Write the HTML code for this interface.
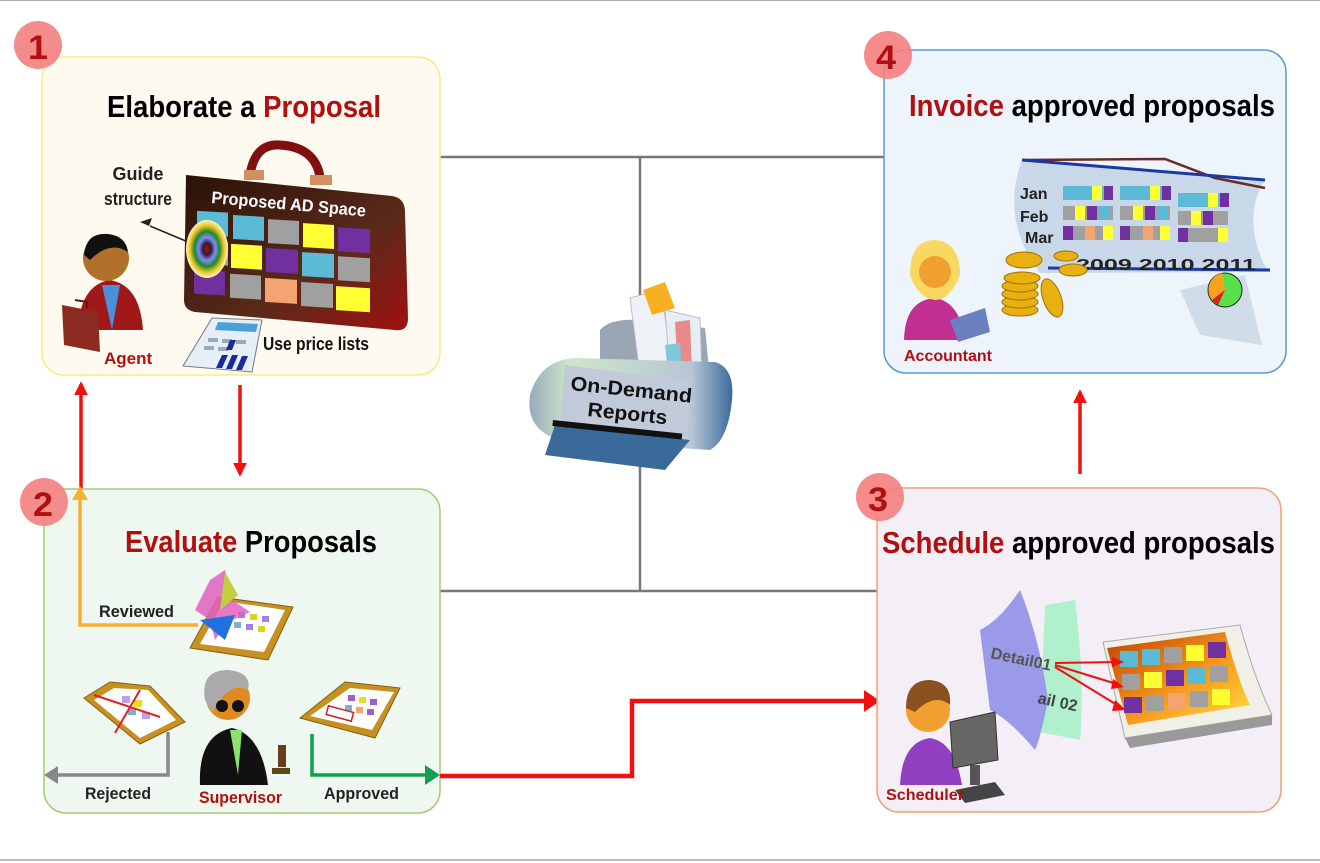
<!DOCTYPE html>
<html><head><meta charset="utf-8"><style>
html,body{margin:0;padding:0;background:#fff}
svg{display:block}
text{font-family:"Liberation Sans",Arial,sans-serif;font-weight:bold}
</style></head><body>
<svg width="1320" height="863" viewBox="0 0 1320 863" xmlns="http://www.w3.org/2000/svg">
<defs>
<marker id="ar" viewBox="0 0 10 10" refX="8" refY="5" markerWidth="4" markerHeight="4" orient="auto"><path d="M0,0L10,5L0,10z" fill="#f01010"/></marker>
<linearGradient id="case" x1="0" y1="0" x2="1" y2="1"><stop offset="0" stop-color="#2a1208"/><stop offset="0.6" stop-color="#5a2a1a"/><stop offset="1" stop-color="#a01010"/></linearGradient>
<radialGradient id="tgt"><stop offset="0" stop-color="#c00"/><stop offset="0.2" stop-color="#223"/><stop offset="0.4" stop-color="#88f"/><stop offset="0.6" stop-color="#1a8a2a"/><stop offset="0.8" stop-color="#e8c020"/><stop offset="1" stop-color="#fff8c0"/></radialGradient>
<linearGradient id="prn" x1="0" y1="0" x2="1" y2="0"><stop offset="0" stop-color="#9ab"/><stop offset="0.2" stop-color="#cfe6c8"/><stop offset="0.8" stop-color="#b6c6d6"/><stop offset="1" stop-color="#3a6a9a"/></linearGradient>
<linearGradient id="cal" x1="0" y1="0" x2="1" y2="1"><stop offset="0" stop-color="#c04000"/><stop offset="0.6" stop-color="#f8a020"/><stop offset="1" stop-color="#ffe040"/></linearGradient>
</defs>
<line x1="0" y1="0.5" x2="1320" y2="0.5" stroke="#aaa"/>
<line x1="0" y1="860" x2="1320" y2="860" stroke="#bbb" stroke-width="2"/>

<g stroke="#777" stroke-width="2.5" fill="none">
<line x1="440" y1="157" x2="884" y2="157"/>
<line x1="640" y1="157" x2="640" y2="591"/>
<line x1="440" y1="591" x2="877" y2="591"/>
</g>

<!-- Box 1 -->
<rect x="42" y="57" width="398" height="318" rx="22" fill="#fffaf0" stroke="#f0f080" stroke-width="1.5"/>
<circle cx="38" cy="45" r="24" fill="#f48080" opacity="0.9"/>
<text x="38" y="59" font-size="34" fill="#b01010" text-anchor="middle" textLength="20" lengthAdjust="spacingAndGlyphs">1</text>
<text x="107" y="117" font-size="31" textLength="274" lengthAdjust="spacingAndGlyphs"><tspan fill="#000">Elaborate a </tspan><tspan fill="#b01010">Proposal</tspan></text>
<text x="138" y="180" font-size="18" fill="#222" text-anchor="middle">Guide</text>
<text x="138" y="205" font-size="18" fill="#222" text-anchor="middle" textLength="68" lengthAdjust="spacingAndGlyphs">structure</text>
<line x1="150" y1="226" x2="200" y2="247" stroke="#222" stroke-width="1.5"/>
<path d="M140,222 l12,-4 l-3,8z" fill="#222"/>
<path d="M250,175 q5,-32 30,-30 q35,2 40,32" fill="none" stroke="#801010" stroke-width="9"/>
<rect x="244" y="170" width="20" height="10" fill="#d09060"/><rect x="310" y="175" width="22" height="10" fill="#d09060"/>
<path d="M186,175 L392,196 Q405,198 405,212 L408,318 Q408,332 395,330 L195,312 Q184,310 184,300 Z" fill="url(#case)"/>
<text x="211" y="203" font-size="17" fill="#fff" transform="rotate(5 211 203)" textLength="155" lengthAdjust="spacingAndGlyphs">Proposed AD Space</text>
<g transform="matrix(1,0.06,0,1,0,0)">
<rect x="197" y="199" width="31" height="24" fill="#5bbad5"/><rect x="233" y="201" width="31" height="24" fill="#5bbad5"/><rect x="268" y="203" width="31" height="24" fill="#a0a0a0"/><rect x="303" y="205" width="31" height="24" fill="#ffff33"/><rect x="338" y="207" width="32" height="24" fill="#7030a0"/>
<rect x="197" y="228" width="31" height="24" fill="#a0a0a0"/><rect x="231" y="230" width="31" height="24" fill="#ffff33"/><rect x="266" y="232" width="32" height="24" fill="#7030a0"/><rect x="302" y="234" width="32" height="24" fill="#5bbad5"/><rect x="338" y="236" width="32" height="24" fill="#a0a0a0"/>
<rect x="194" y="258" width="31" height="24" fill="#7030a0"/><rect x="230" y="260" width="31" height="24" fill="#a0a0a0"/><rect x="265" y="262" width="32" height="24" fill="#f4a470"/><rect x="301" y="264" width="32" height="24" fill="#a0a0a0"/><rect x="336" y="266" width="34" height="24" fill="#ffff33"/>
</g>
<ellipse cx="207" cy="249" rx="21" ry="29" fill="url(#tgt)"/>
<!-- calculator -->
<path d="M212,318 L262,320 L252,372 L183,366 Z" fill="#e6eef6" stroke="#778" stroke-width="1"/>
<path d="M218,322 L258,324 L256,332 L215,330Z" fill="#4aa0d8"/>
<g fill="#9aaabb"><rect x="208" y="338" width="10" height="4"/><rect x="222" y="339" width="10" height="4"/><rect x="236" y="340" width="10" height="4"/><rect x="204" y="346" width="10" height="4"/><rect x="218" y="347" width="10" height="4"/></g>
<g fill="#1a2a9a"><path d="M222,355 L228,355 L222,368 L216,368Z"/><path d="M232,355 L238,355 L232,369 L226,369Z"/><path d="M242,356 L248,356 L242,370 L236,370Z"/><path d="M230,340 L236,340 L232,350 L226,350Z"/></g>
<text x="263" y="350" font-size="18" fill="#111" textLength="106" lengthAdjust="spacingAndGlyphs">Use price lists</text>
<!-- agent -->
<path d="M78,330 Q80,285 110,280 Q140,285 143,330 Z" fill="#a01818"/>
<path d="M102,285 L112,330 L120,285Z" fill="#4a90d8"/>
<circle cx="106" cy="258" r="23" fill="#b0702a"/>
<path d="M84,255 Q86,232 108,234 Q126,236 128,252 Q110,240 90,260Z" fill="#111"/>
<path d="M62,305 L98,312 L100,352 L64,345Z" fill="#8a2a20"/>
<path d="M75,300 l12,2 l0,6" fill="none" stroke="#5a1a10" stroke-width="2"/>
<text x="104" y="364" font-size="17" fill="#b01010">Agent</text>

<line x1="81" y1="489" x2="81" y2="384" stroke="#f01010" stroke-width="3.5" marker-end="url(#ar)"/>
<line x1="240" y1="385" x2="240" y2="474" stroke="#f01010" stroke-width="3.5" marker-end="url(#ar)"/>

<!-- Box 2 -->
<rect x="44" y="489" width="396" height="324" rx="22" fill="#eef8f0" stroke="#a8c878" stroke-width="1.5"/>
<circle cx="44" cy="502" r="24" fill="#f48080" opacity="0.9"/>
<text x="43" y="516" font-size="34" fill="#b01010" text-anchor="middle" textLength="20" lengthAdjust="spacingAndGlyphs">2</text>
<text x="125" y="552" font-size="31" textLength="252" lengthAdjust="spacingAndGlyphs"><tspan fill="#b01010">Evaluate </tspan><tspan fill="#000">Proposals</tspan></text>
<path d="M198,625 L80,625 L80,498" fill="none" stroke="#f8b030" stroke-width="3.5"/>
<path d="M72,500 L80,486 L88,500Z" fill="#f8b030"/>
<text x="99" y="617" font-size="17" fill="#222" textLength="75" lengthAdjust="spacingAndGlyphs">Reviewed</text>
<g><path d="M218,597 L293,607 L268,660 L190,648Z" fill="#c89020" stroke="#806010"/><path d="M224,601 L285,610 L264,652 L200,644Z" fill="#fff"/>
<g fill="#a080e0"><rect x="238" y="612" width="7" height="6"/><rect x="250" y="614" width="7" height="6" fill="#e0d020"/><rect x="262" y="616" width="7" height="6"/><rect x="234" y="622" width="7" height="6" fill="#80b0d0"/><rect x="246" y="624" width="7" height="6"/><rect x="258" y="626" width="7" height="6" fill="#e0d020"/></g>
<path d="M210,580 L225,570 L232,600 L250,612 L228,622 L215,640 L210,620 L195,610Z" fill="#e060c0" opacity="0.85"/><path d="M225,572 L238,595 L220,610Z" fill="#c0d040"/><path d="M200,620 L235,615 L225,640Z" fill="#2070e0"/></g>
<g><path d="M110,682 L150,686 L185,722 L140,744 L84,698Z" fill="#c89020" stroke="#806010"/><path d="M114,688 L148,690 L176,720 L140,738 L94,700Z" fill="#fff"/>
<g fill="#c0a0e0"><rect x="122" y="696" width="8" height="7"/><rect x="134" y="700" width="8" height="7" fill="#e0e020"/><rect x="128" y="708" width="8" height="7" fill="#80b0d0"/><rect x="142" y="712" width="8" height="7"/></g>
<line x1="94" y1="695" x2="160" y2="717" stroke="#e02020" stroke-width="2"/><line x1="140" y1="690" x2="115" y2="733" stroke="#e02020" stroke-width="2"/></g>
<g><path d="M345,682 L400,688 L375,738 L300,718Z" fill="#c89020" stroke="#806010"/><path d="M350,688 L394,692 L372,730 L310,716Z" fill="#fff"/>
<g fill="#9a60d0"><rect x="348" y="695" width="7" height="6"/><rect x="359" y="697" width="7" height="6" fill="#e0e020"/><rect x="370" y="699" width="7" height="6"/><rect x="345" y="705" width="7" height="6" fill="#80b0d0"/><rect x="356" y="707" width="7" height="6" fill="#f4a470"/><rect x="367" y="709" width="7" height="6"/></g>
<rect x="327" y="709" width="26" height="9" fill="none" stroke="#d02020" stroke-width="1.5" transform="rotate(15 340 713)"/></g>
<path d="M168,732 L168,775 L56,775" fill="none" stroke="#888" stroke-width="3.5"/>
<path d="M58,766 L44,775 L58,784Z" fill="#888"/>
<text x="85" y="799" font-size="17" fill="#222" textLength="66" lengthAdjust="spacingAndGlyphs">Rejected</text>
<path d="M312,734 L312,775 L428,775" fill="none" stroke="#10a050" stroke-width="3.5"/>
<path d="M425,765 L440,775 L425,785Z" fill="#10a050"/>
<text x="324" y="799" font-size="17" fill="#222" textLength="75" lengthAdjust="spacingAndGlyphs">Approved</text>
<path d="M200,785 Q198,735 232,728 Q262,735 268,785 Z" fill="#111"/>
<path d="M230,730 L238,775 L242,730Z" fill="#8de070"/>
<circle cx="228" cy="698" r="22" fill="#e08a20"/>
<path d="M205,700 Q200,670 228,670 Q252,672 248,690 Q230,680 212,712Z" fill="#aaa"/>
<circle cx="222" cy="706" r="6" fill="#111"/><circle cx="238" cy="706" r="6" fill="#111"/>
<rect x="278" y="745" width="8" height="22" fill="#6a3a1a"/><rect x="272" y="768" width="18" height="6" fill="#5a4a1a"/>
<text x="199" y="803" font-size="17" fill="#b01010" textLength="83" lengthAdjust="spacingAndGlyphs">Supervisor</text>

<path d="M440,776 L632,776 L632,701 L866,701" fill="none" stroke="#f01010" stroke-width="4.5"/>
<path d="M864,690 L880,701 L864,712Z" fill="#f01010"/>

<!-- printer -->
<g>
<path d="M600,330 Q610,318 640,320 L705,328 L710,380 L600,370Z" fill="#9aa6b4"/>
<path d="M630,298 L660,290 L675,370 L640,375Z" fill="#eef2f6" stroke="#bbc"/>
<path d="M643,290 L665,282 L675,308 L652,315Z" fill="#f8b020"/>
<path d="M665,310 L700,318 L702,378 L670,374Z" fill="#e6eef4" stroke="#bbc"/>
<path d="M675,322 L690,320 L692,372 L678,372Z" fill="#e88a8a"/>
<path d="M665,345 L680,343 L682,372 L668,372Z" fill="#80c8d8"/>
<path d="M530,395 Q540,360 575,358 L715,362 Q735,368 732,400 Q728,440 710,450 L560,440 Q525,430 530,395Z" fill="url(#prn)"/>
<path d="M565,365 L690,382 L688,440 L560,425Z" fill="#c0cad8"/>
<path d="M555,425 L690,440 L665,470 L545,455Z" fill="#3a6a9a"/>
<rect x="553" y="420" width="130" height="6" fill="#111" transform="rotate(6 553 420)"/>
<text x="570" y="390" font-size="20" fill="#111" transform="rotate(6 570 390)" textLength="122" lengthAdjust="spacingAndGlyphs">On-Demand</text>
<text x="587" y="416" font-size="20" fill="#111" transform="rotate(6 587 416)" textLength="80" lengthAdjust="spacingAndGlyphs">Reports</text>
</g>

<!-- Box 4 -->
<rect x="884" y="50" width="402" height="323" rx="22" fill="#eef4fc" stroke="#5a9acc" stroke-width="1.5"/>
<circle cx="888" cy="55" r="24" fill="#f48080" opacity="0.9"/>
<text x="886" y="69" font-size="34" fill="#b01010" text-anchor="middle" textLength="20" lengthAdjust="spacingAndGlyphs">4</text>
<text x="909" y="116" font-size="31" textLength="366" lengthAdjust="spacingAndGlyphs"><tspan fill="#b01010">Invoice </tspan><tspan fill="#000">approved proposals</tspan></text>
<path d="M1022,160 L1265,180 Q1240,220 1268,272 L1040,273 Q1000,220 1022,160Z" fill="#c8d8e8"/>
<path d="M1022,160 L1165,159 L1215,178 L1265,188" fill="none" stroke="#6a2a2a" stroke-width="2.5"/>
<path d="M1022,160 L1265,180" stroke="#1a3aa0" stroke-width="3"/>
<path d="M1048,268 L1270,270" stroke="#1a3aa0" stroke-width="3"/>
<g>
<rect x="1063" y="186" width="50" height="14" fill="#5bbad5"/><rect x="1092" y="186" width="10" height="14" fill="#ffff33"/><rect x="1104" y="186" width="9" height="14" fill="#7030a0"/>
<rect x="1063" y="206" width="50" height="14" fill="#a0a0a0"/><rect x="1075" y="206" width="10" height="14" fill="#ffff33"/><rect x="1087" y="206" width="10" height="14" fill="#7030a0"/><rect x="1099" y="206" width="10" height="14" fill="#5bbad5"/>
<rect x="1063" y="226" width="50" height="14" fill="#a0a0a0"/><rect x="1063" y="226" width="10" height="14" fill="#7030a0"/><rect x="1085" y="226" width="10" height="14" fill="#f4a470"/><rect x="1103" y="226" width="10" height="14" fill="#ffff33"/>
<rect x="1120" y="186" width="50" height="14" fill="#5bbad5"/><rect x="1150" y="186" width="10" height="14" fill="#ffff33"/><rect x="1162" y="186" width="9" height="14" fill="#7030a0"/>
<rect x="1120" y="206" width="50" height="14" fill="#a0a0a0"/><rect x="1133" y="206" width="10" height="14" fill="#ffff33"/><rect x="1145" y="206" width="10" height="14" fill="#7030a0"/><rect x="1157" y="206" width="10" height="14" fill="#5bbad5"/>
<rect x="1120" y="226" width="50" height="14" fill="#a0a0a0"/><rect x="1120" y="226" width="10" height="14" fill="#7030a0"/><rect x="1143" y="226" width="10" height="14" fill="#f4a470"/><rect x="1160" y="226" width="10" height="14" fill="#ffff33"/>
<rect x="1178" y="193" width="50" height="14" fill="#5bbad5"/><rect x="1208" y="193" width="10" height="14" fill="#ffff33"/><rect x="1220" y="193" width="9" height="14" fill="#7030a0"/>
<rect x="1178" y="211" width="50" height="14" fill="#a0a0a0"/><rect x="1191" y="211" width="10" height="14" fill="#ffff33"/><rect x="1203" y="211" width="10" height="14" fill="#7030a0"/>
<rect x="1178" y="228" width="50" height="14" fill="#a0a0a0"/><rect x="1178" y="228" width="10" height="14" fill="#7030a0"/><rect x="1218" y="228" width="10" height="14" fill="#ffff33"/>
</g>
<text x="1020" y="199" font-size="16" fill="#222">Jan</text>
<text x="1020" y="222" font-size="16" fill="#222">Feb</text>
<text x="1025" y="243" font-size="16" fill="#222">Mar</text>
<text x="1076" y="270" font-size="16" fill="#222" textLength="180" lengthAdjust="spacingAndGlyphs">2009  2010 2011</text>
<path d="M1180,290 L1245,275 L1262,345 L1200,335Z" fill="#d0dce8"/>
<circle cx="1225" cy="290" r="17" fill="#5ae04a" stroke="#222"/><path d="M1225,290 L1212,300 A17,17 0 0 1 1222,273Z" fill="#f8a020"/><path d="M1225,290 L1218,305 L1212,300Z" fill="#e02020"/>
<g fill="#e8b010" stroke="#a07000">
<ellipse cx="1020" cy="310" rx="18" ry="6"/><ellipse cx="1020" cy="302" rx="18" ry="6"/><ellipse cx="1020" cy="294" rx="18" ry="6"/><ellipse cx="1020" cy="286" rx="18" ry="6"/><ellipse cx="1022" cy="278" rx="18" ry="6"/><ellipse cx="1024" cy="260" rx="18" ry="8"/>
<ellipse cx="1052" cy="298" rx="9" ry="20" transform="rotate(-20 1052 298)"/>
<ellipse cx="1066" cy="256" rx="12" ry="5"/><ellipse cx="1073" cy="270" rx="14" ry="6"/>
</g>
<path d="M904,340 Q905,300 935,298 Q960,302 965,340Z" fill="#c03090"/>
<path d="M910,275 Q910,240 935,240 Q960,242 960,275 Q950,300 935,300 Q918,298 910,275Z" fill="#f8d860"/>
<circle cx="935" cy="272" r="16" fill="#f0a030"/>
<path d="M950,320 L985,308 L990,332 L958,342Z" fill="#6a80c0"/>
<text x="904" y="361" font-size="16" fill="#b01010" textLength="88" lengthAdjust="spacingAndGlyphs">Accountant</text>

<line x1="1080" y1="474" x2="1080" y2="392" stroke="#f01010" stroke-width="3.5" marker-end="url(#ar)"/>

<!-- Box 3 -->
<rect x="877" y="488" width="404" height="324" rx="22" fill="#f4eef6" stroke="#f0a070" stroke-width="1.5"/>
<circle cx="880" cy="497" r="24" fill="#f48080" opacity="0.9"/>
<text x="878" y="511" font-size="34" fill="#b01010" text-anchor="middle" textLength="20" lengthAdjust="spacingAndGlyphs">3</text>
<text x="882" y="553" font-size="31" textLength="393" lengthAdjust="spacingAndGlyphs"><tspan fill="#b01010">Schedule </tspan><tspan fill="#000">approved proposals</tspan></text>
<path d="M1045,605 L1075,600 Q1085,680 1080,740 L1040,732Z" fill="#a8f0c8" opacity="0.9"/>
<path d="M980,630 Q1000,620 1020,590 Q1040,640 1048,700 Q1040,740 1035,750 Q1010,720 990,710 Z" fill="#9a9ae8"/>
<text x="990" y="658" font-size="16" fill="#555" transform="rotate(12 990 658)">Detail01</text>
<text x="1037" y="703" font-size="16" fill="#444" transform="rotate(12 1037 703)">ail 02</text>
<path d="M1103,642 L1240,625 Q1255,680 1272,715 L1125,738Z" fill="#f0f0e8" stroke="#aaa"/>
<path d="M1107,648 L1225,632 Q1238,680 1250,705 L1128,725Z" fill="url(#cal)"/>
<path d="M1125,738 L1272,715 L1272,725 L1130,748Z" fill="#999"/>
<g>
<rect x="1120" y="651" width="18" height="16" fill="#5bbad5"/><rect x="1142" y="649" width="18" height="16" fill="#5bbad5"/><rect x="1164" y="647" width="18" height="16" fill="#a0a0a0"/><rect x="1186" y="645" width="18" height="16" fill="#ffff33"/><rect x="1208" y="642" width="18" height="16" fill="#7030a0"/>
<rect x="1122" y="674" width="18" height="16" fill="#a0a0a0"/><rect x="1144" y="672" width="18" height="16" fill="#ffff33"/><rect x="1166" y="670" width="18" height="16" fill="#7030a0"/><rect x="1188" y="668" width="18" height="16" fill="#5bbad5"/><rect x="1210" y="666" width="18" height="16" fill="#a0a0a0"/>
<rect x="1124" y="697" width="18" height="16" fill="#7030a0"/><rect x="1146" y="695" width="18" height="16" fill="#a0a0a0"/><rect x="1168" y="693" width="18" height="16" fill="#f4a470"/><rect x="1190" y="691" width="18" height="16" fill="#a0a0a0"/><rect x="1212" y="689" width="18" height="16" fill="#ffff33"/>
</g>
<g stroke="#f01010" stroke-width="2"><line x1="1055" y1="663" x2="1118" y2="662"/><line x1="1055" y1="665" x2="1120" y2="685"/><line x1="1055" y1="667" x2="1122" y2="708"/></g>
<g fill="#f01010"><path d="M1112,657 L1124,662 L1112,667Z"/><path d="M1113,679 L1124,687 L1111,689Z"/><path d="M1115,700 L1126,710 L1112,711Z"/></g>
<path d="M900,785 Q902,742 930,738 Q955,742 962,785Z" fill="#9040c0"/>
<circle cx="928" cy="710" r="22" fill="#f0a030"/>
<path d="M906,708 Q906,680 930,680 Q952,682 950,705 Q935,692 915,712Z" fill="#8a5020"/>
<path d="M950,722 L995,712 L998,760 L953,768Z" fill="#666" stroke="#333"/>
<rect x="970" y="765" width="10" height="20" fill="#555"/><path d="M955,790 L995,782 L1005,795 L965,803Z" fill="#444"/>
<text x="886" y="800" font-size="16" fill="#b01010" textLength="78" lengthAdjust="spacingAndGlyphs">Scheduler</text>
</svg>
</body></html>
